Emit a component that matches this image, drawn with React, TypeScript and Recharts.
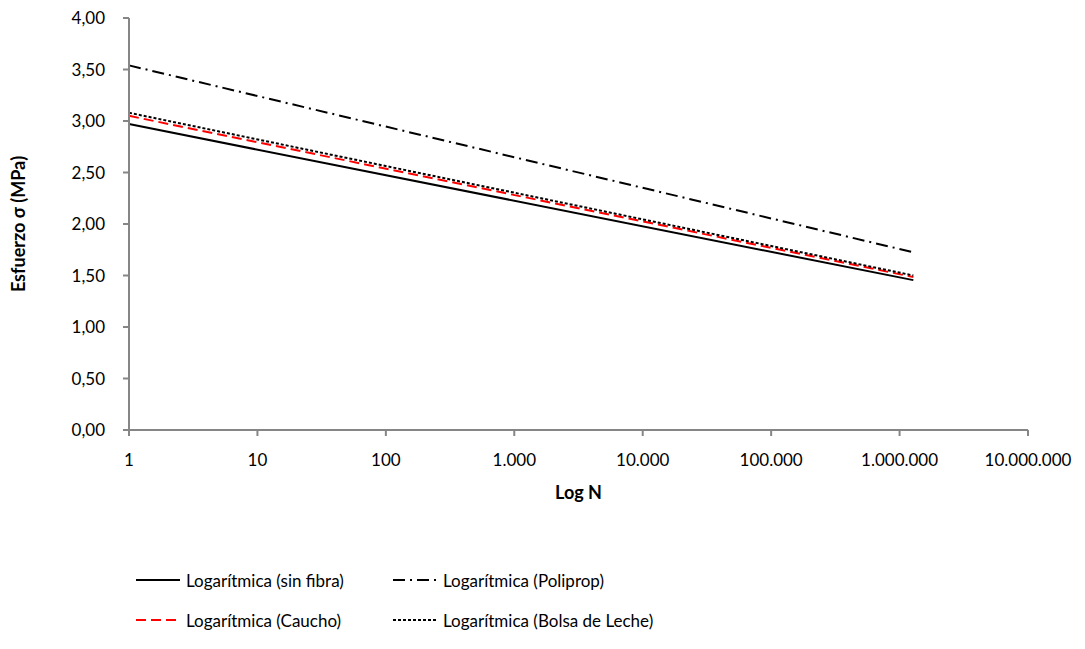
import React from 'react';
import { LineChart, Line, XAxis, YAxis } from 'recharts';

// cycles (N) at the two ends of each fitted log curve
const cycles = [1, 1280000];

// stress (MPa) for each trend line
const sinFibra = [2.97, 1.455];
const poliprop = [3.54, 1.725];
const caucho = [3.05, 1.485];
const bolsaLeche = [3.08, 1.5];

const xTicks = [1, 10, 100, 1000, 10000, 100000, 1000000, 10000000];
const yTicks = [0, 0.5, 1, 1.5, 2, 2.5, 3, 3.5, 4];

const series = [
  { key: 'sinFibra', name: 'Logarítmica (sin fibra)', color: '#000000', dash: undefined },
  { key: 'poliprop', name: 'Logarítmica (Poliprop)', color: '#000000', dash: '12 5 2 5' },
  { key: 'caucho', name: 'Logarítmica (Caucho)', color: '#ff0000', dash: '10 5' },
  { key: 'bolsaLeche', name: 'Logarítmica (Bolsa de Leche)', color: '#000000', dash: '3 2' },
];

const data = cycles.map((n, i) => ({
  n,
  sinFibra: sinFibra[i],
  poliprop: poliprop[i],
  caucho: caucho[i],
  bolsaLeche: bolsaLeche[i],
}));

const font = 'Lato, "Open Sans", sans-serif';
const axisColor = '#868686';

const fmtN = (v: number) => Math.round(v).toString().replace(/\B(?=(\d{3})+(?!\d))/g, '.');
const fmtY = (v: number) => v.toFixed(2).replace('.', ',');

export default function App() {
  return (
    <div style={{ position: 'absolute', left: 0, top: 0, width: 1085, height: 649, background: '#fff', fontFamily: font }}>
      <LineChart width={1085} height={649} data={data} margin={{ top: 18, right: 57, left: 0, bottom: 0 }}>
        <XAxis
          dataKey="n"
          type="number"
          scale="log"
          domain={[1, 10000000]}
          ticks={xTicks}
          tickFormatter={fmtN}
          stroke={axisColor}
          strokeWidth={2}
          tickSize={6}
          tickMargin={18}
          height={219}
          tick={{ fill: '#000', fontSize: 17, fontFamily: font }}
          label={{ value: 'Log N', position: 'insideTop', offset: 56, fill: '#000', fontSize: 18, fontWeight: 'bold', fontFamily: font }}
        />
        <YAxis
          type="number"
          domain={[0, 4]}
          ticks={yTicks}
          tickFormatter={fmtY}
          stroke={axisColor}
          strokeWidth={2}
          tickSize={6}
          tickMargin={18}
          width={129}
          tick={{ fill: '#000', fontSize: 17, fontFamily: font }}
          label={{ value: 'Esfuerzo σ (MPa)', angle: -90, position: 'insideLeft', offset: 19, fill: '#000', fontSize: 18, fontWeight: 'bold', fontFamily: font, style: { textAnchor: 'middle' } }}
        />
        {series.map(s => (
          <Line
            key={s.key}
            dataKey={s.key}
            name={s.name}
            type="linear"
            stroke={s.color}
            strokeWidth={2}
            strokeDasharray={s.dash}
            dot={false}
            activeDot={false}
            isAnimationActive={false}
          />
        ))}
      </LineChart>
      {series.map((s, i) => {
        const col = i % 2;
        const row = Math.floor(i / 2);
        const left = col === 0 ? 136 : 393;
        const top = row === 0 ? 568 : 608;
        return (
          <div key={s.key} style={{ position: 'absolute', left, top, display: 'flex', alignItems: 'center', height: 24 }}>
            <svg width={46} height={24}>
              <line x1={0} y1={12} x2={44} y2={12} stroke={s.color} strokeWidth={2} strokeDasharray={s.dash} />
            </svg>
            <span style={{ fontSize: 17, color: '#000', marginLeft: 4, whiteSpace: 'nowrap' }}>{s.name}</span>
          </div>
        );
      })}
    </div>
  );
}
